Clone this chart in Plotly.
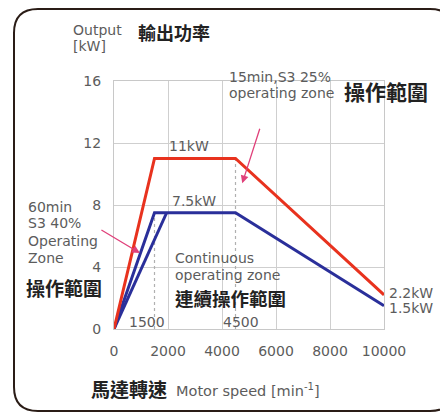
import plotly.graph_objects as go

# data
speed_red = [0, 1500, 4500, 10000]
power_red = [0, 11, 11, 2.2]
speed_blue = [0, 1500, 4500, 10000]
power_blue = [0, 7.5, 7.5, 1.5]
speed_blue2 = [0, 1950]
power_blue2 = [0, 7.5]
x_ticks = [0, 2000, 4000, 6000, 8000, 10000]
x_labels = ["0", "2000", "4000", "6000", "8000", "10000"]
y_ticks = [0, 4, 8, 12, 16]
y_labels = ["0", "4", "8", "12", "16"]

OFF = 8  # page body margin
W, H = 448 - OFF, 413 - OFF
L, R, T, B = 114 - OFF, 384 - OFF, 81 - OFF, 329 - OFF

fig = go.Figure()
fig.add_trace(go.Scatter(x=[1500, 1500], y=[0, 7.5], mode="lines",
                         line=dict(color="#b0b0b0", width=1.2, dash="dot"), hoverinfo="skip"))
fig.add_trace(go.Scatter(x=[4500, 4500], y=[0, 11], mode="lines",
                         line=dict(color="#b0b0b0", width=1.2, dash="dot"), hoverinfo="skip"))
fig.add_trace(go.Scatter(x=speed_blue2, y=power_blue2, mode="lines",
                         line=dict(color="#2a2f9a", width=3), hoverinfo="skip"))
fig.add_trace(go.Scatter(x=speed_blue, y=power_blue, mode="lines",
                         line=dict(color="#2a2f9a", width=3), hoverinfo="skip"))
fig.add_trace(go.Scatter(x=speed_red, y=power_red, mode="lines",
                         line=dict(color="#e8321e", width=3), hoverinfo="skip"))

grey = "#5c5c5c"
sans = "DejaVu Sans, Liberation Sans, Arial"
cjk = "Noto Sans CJK TC"


def px(x):
    return (x - OFF - L) / (R - L)


def py(y):
    return (B - (y - OFF)) / (B - T)


ann = []


def txt(x, y, s, size=14, color=grey, family=sans, bold=False):
    ann.append(dict(xref="paper", yref="paper", x=px(x), y=py(y),
                    text=("<b>%s</b>" % s) if bold else s, showarrow=False,
                    xanchor="left", yanchor="middle",
                    font=dict(size=size, color=color, family=family)))


txt(71, 30, "Output", 14)
txt(71, 46, "[kW]", 14)
txt(136, 32, "輸出功率", 18, "#222", cjk, True)
txt(227, 77, "15min,S3 25%", 14)
txt(227, 93, "operating zone", 14)
txt(342, 91, "操作範圍", 21, "#222", cjk, True)
txt(167, 146, "11kW", 14)
txt(170, 201, "7.5kW", 14)
txt(26, 207, "60min", 14)
txt(26, 223, "S3 40%", 14)
txt(26, 241, "Operating", 14)
txt(26, 258, "Zone", 14)
txt(24, 287, "操作範圍", 19, "#222", cjk, True)
txt(173, 258, "Continuous", 14)
txt(173, 275, "operating zone", 14)
txt(173, 298, "連續操作範圍", 18.5, "#222", cjk, True)
txt(127, 322, "1500", 14)
txt(221, 322, "4500", 14)
txt(387, 293, "2.2kW", 14)
txt(387, 308, "1.5kW", 14)
txt(89, 388, "馬達轉速", 19, "#222", cjk, True)
txt(174, 390, "Motor speed [min<sup>-1</sup>]", 14.5)

pink = "#e0407a"
ann.append(dict(x=4750, y=9.4, xref="x", yref="y", ax=18, ay=-56,
                showarrow=True, arrowhead=2, arrowsize=1.2, arrowwidth=1.3, arrowcolor=pink, text=""))
ann.append(dict(x=960, y=4.9, xref="x", yref="y", ax=-40, ay=-24,
                showarrow=True, arrowhead=2, arrowsize=1.2, arrowwidth=1.3, arrowcolor=pink, text=""))

# rounded outer frame (page px -> paper)
x0, x1, y0, y1, r = 14, 454, 9, 411, 24
path = (f"M {px(x0+r)} {py(y0)} L {px(x1-r)} {py(y0)} Q {px(x1)} {py(y0)} {px(x1)} {py(y0+r)} "
        f"L {px(x1)} {py(y1-r)} Q {px(x1)} {py(y1)} {px(x1-r)} {py(y1)} "
        f"L {px(x0+r)} {py(y1)} Q {px(x0)} {py(y1)} {px(x0)} {py(y1-r)} "
        f"L {px(x0)} {py(y0+r)} Q {px(x0)} {py(y0)} {px(x0+r)} {py(y0)} Z")

fig.update_layout(
    width=W, height=H,
    margin=dict(l=L, r=W - R, t=T, b=H - B),
    paper_bgcolor="white", plot_bgcolor="white",
    showlegend=False,
    annotations=ann,
    shapes=[dict(type="path", path=path, xref="paper", yref="paper",
                 line=dict(color="#2a1c16", width=2), layer="above")],
    xaxis=dict(range=[0, 10000], tickvals=x_ticks, ticktext=x_labels, ticks="outside", ticklen=9,
               tickcolor="rgba(0,0,0,0)", showgrid=True, gridcolor="#cfcfcf", gridwidth=1.2,
               zeroline=False, showline=True, linecolor="#c8c8c8", mirror=True,
               tickfont=dict(size=14, color=grey, family=sans)),
    yaxis=dict(range=[0, 16], tickvals=y_ticks, ticktext=y_labels, ticks="outside", ticklen=9,
               tickcolor="rgba(0,0,0,0)", showgrid=True, gridcolor="#cfcfcf", gridwidth=1.2,
               zeroline=False, showline=True, linecolor="#c8c8c8", mirror=True,
               tickfont=dict(size=14, color=grey, family=sans)),
)
fig.write_html("out.html")
